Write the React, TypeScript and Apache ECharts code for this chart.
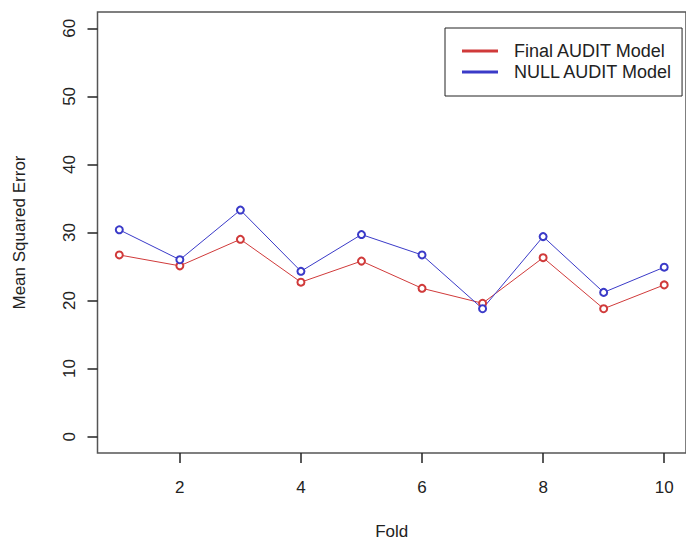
import React, { useEffect, useRef } from "react";
import * as echarts from "echarts";

const folds = [1, 2, 3, 4, 5, 6, 7, 8, 9, 10];
const finalMSE = [26.7, 25.1, 29.0, 22.7, 25.8, 21.8, 19.6, 26.3, 18.8, 22.3];
const nullMSE = [30.4, 26.0, 33.3, 24.3, 29.7, 26.7, 18.8, 29.4, 21.2, 24.9];
const xTicks = [2, 4, 6, 8, 10];
const yTicks = [0, 10, 20, 30, 40, 50, 60];
const seriesNames = ["Final AUDIT Model", "NULL AUDIT Model"];

const FONT = "'Liberation Sans', Arial, sans-serif";
const RED = "#d03a3a";
const BLUE = "#3a3ac8";

export default function App() {
  const ref = useRef<HTMLDivElement>(null);
  useEffect(() => {
    document.body.style.margin = "0";
    if (!ref.current) return;
    const chart = echarts.init(ref.current, null, { renderer: "svg" });
    const mk = (vals: number[]) => folds.map((f, i) => [f, vals[i]]);
    chart.setOption({
      animation: false,
      backgroundColor: "#fff",
      textStyle: { fontFamily: FONT },
      grid: {
        left: 97.5,
        top: 12,
        width: 600,
        height: 442.5,
        show: true,
        borderColor: "#555",
        borderWidth: 1.5,
        backgroundColor: "transparent",
      },
      legend: {
        orient: "vertical",
        left: 445,
        top: 28,
        data: seriesNames.map((n) => ({ name: n, icon: "rect" })),
        itemWidth: 34,
        itemHeight: 1,
        itemGap: 3,
        padding: [14, 9, 15, 17],
        borderColor: "#222",
        borderWidth: 1,
        textStyle: {
          fontFamily: FONT,
          fontSize: 18,
          color: "#222",
          lineHeight: 18,
          padding: [0, 0, 0, 12],
        },
      },
      xAxis: {
        type: "value",
        min: 0.64,
        max: 10.36,
        name: "Fold",
        nameLocation: "middle",
        nameGap: 70,
        nameTextStyle: { fontFamily: FONT, fontSize: 17, color: "#222" },
        axisLine: { show: false, onZero: false },
        splitLine: { show: false },
        axisTick: {
          show: true,
          length: 10,
          customValues: xTicks,
          lineStyle: { color: "#222", width: 1.5 },
        },
        axisLabel: {
          customValues: xTicks,
          margin: 26,
          fontFamily: FONT,
          fontSize: 17,
          color: "#222",
        },
      },
      yAxis: {
        type: "value",
        min: -2.4,
        max: 62.4,
        name: "Mean Squared Error",
        nameLocation: "middle",
        nameRotate: 90,
        nameGap: 70,
        nameTextStyle: { fontFamily: FONT, fontSize: 17, color: "#222" },
        axisLine: { show: false, onZero: false },
        splitLine: { show: false },
        axisTick: {
          show: true,
          length: 10,
          customValues: yTicks,
          lineStyle: { color: "#222", width: 1.5 },
        },
        axisLabel: {
          customValues: yTicks,
          rotate: 90,
          margin: 20,
          fontFamily: FONT,
          fontSize: 17,
          color: "#222",
        },
      },
      series: [
        {
          name: seriesNames[0],
          type: "line",
          data: mk(finalMSE),
          symbol: "emptyCircle",
          symbolSize: 7,
          lineStyle: { color: RED, width: 1 },
          itemStyle: { color: RED, borderColor: RED, borderWidth: 1.3 },
          emphasis: { disabled: true },
        },
        {
          name: seriesNames[1],
          type: "line",
          data: mk(nullMSE),
          symbol: "emptyCircle",
          symbolSize: 7,
          lineStyle: { color: BLUE, width: 1 },
          itemStyle: { color: BLUE, borderColor: BLUE, borderWidth: 1.3 },
          emphasis: { disabled: true },
        },
      ],
    });
    return () => chart.dispose();
  }, []);
  return <div ref={ref} style={{ width: 686, height: 545 }} />;
}
